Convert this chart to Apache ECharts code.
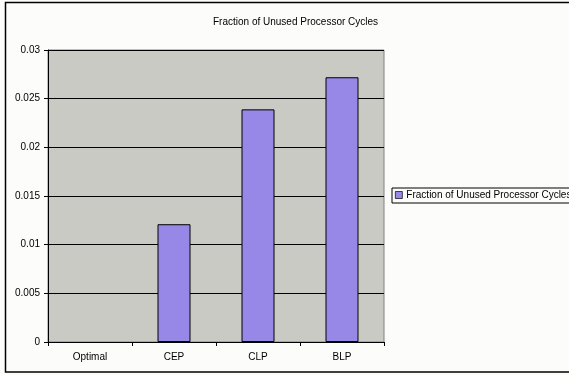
<!DOCTYPE html>
<html>
<head>
<meta charset="utf-8">
<script src="https://cdn.jsdelivr.net/npm/echarts@6/dist/echarts.min.js"></script>
<style>
  html, body { margin: 0; padding: 0; background: #fcfcfa; }
  #chart { width: 569px; height: 375px; }
</style>
</head>
<body>
<div id="chart"></div>
<script>
// Schemes compared and their fraction of unused processor cycles
const categories = ['Optimal', 'CEP', 'CLP', 'BLP'];
const unusedFraction = [0, 0.0121, 0.0239, 0.0272];
const yTickLabels = ['0', '0.005', '0.01', '0.015', '0.02', '0.025', '0.03'];
const seriesName = 'Fraction of Unused Processor Cycles';

const FONT = 'Liberation Sans, Arial, sans-serif';
const chart = echarts.init(document.getElementById('chart'), null, { renderer: 'canvas' });

// zero-height bars get no outline so they don't thicken the axis line
const barData = unusedFraction.map(function (v) {
  return v === 0 ? { value: v, itemStyle: { borderWidth: 0 } } : v;
});

chart.setOption({
  backgroundColor: '#fcfcfa',
  animation: false,
  graphic: [{
    type: 'rect',
    shape: { x: 5.5, y: 2.5, width: 570, height: 369.5 },
    style: { fill: 'none', stroke: '#000', lineWidth: 1.5 },
    silent: true,
    z: 100
  }],
  title: {
    text: seriesName,
    left: 208,
    top: 12,
    textStyle: { fontFamily: FONT, fontSize: 10, fontWeight: 'normal', color: '#000' }
  },
  legend: {
    data: [seriesName],
    left: 392,
    top: 188,
    orient: 'horizontal',
    padding: [2, 4, 3, 3],
    itemWidth: 7,
    itemHeight: 7,
    itemGap: 4,
    borderColor: '#000',
    borderWidth: 1,
    backgroundColor: '#fcfcfa',
    icon: 'rect',
    itemStyle: { borderColor: '#000', borderWidth: 0.7 },
    textStyle: { fontFamily: FONT, fontSize: 10, color: '#000', padding: [0, 0, 0, -1] }
  },
  grid: {
    left: 48,
    top: 50,
    right: 185,
    bottom: 33,
    show: true,
    backgroundColor: '#c9cac4',
    borderColor: '#808080',
    borderWidth: 1
  },
  xAxis: {
    type: 'category',
    data: categories,
    axisLine: { lineStyle: { color: '#000', width: 1 } },
    axisTick: { show: true, length: 4, alignWithLabel: false, lineStyle: { color: '#000' } },
    axisLabel: { fontFamily: FONT, fontSize: 10, color: '#000', margin: 10 }
  },
  yAxis: {
    type: 'value',
    min: 0,
    max: 0.03,
    interval: 0.005,
    axisLine: { show: true, lineStyle: { color: '#000', width: 1 } },
    axisTick: { show: true, length: 4, lineStyle: { color: '#000' } },
    splitLine: { show: true, lineStyle: { color: '#000', width: 1 } },
    axisLabel: {
      fontFamily: FONT,
      fontSize: 10,
      color: '#000',
      margin: 8,
      formatter: function (v) {
        return yTickLabels[Math.round(v / 0.005)];
      }
    }
  },
  series: [{
    name: seriesName,
    type: 'bar',
    data: barData,
    barWidth: 33,
    itemStyle: { color: '#9787e6', borderColor: '#000', borderWidth: 1 }
  }]
});
</script>
</body>
</html>
